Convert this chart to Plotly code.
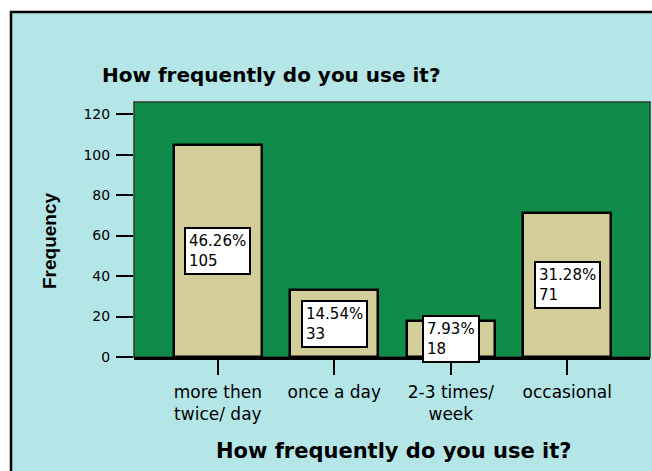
import plotly.graph_objects as go

categories = ["more then<br>twice/ day", "once a day", "2-3 times/<br>week", "occasional"]
counts = [105, 33, 18, 71]
percents = ["46.26%", "14.54%", "7.93%", "31.28%"]
y_ticks = [0, 20, 40, 60, 80, 100, 120]
chart_title = "How frequently do you use it?"
x_title = "How frequently do you use it?"
y_title = "Frequency"

W, H = 652, 471
L, R, T, B = 134, 2, 102, 114
pw, ph = W - L - R, H - T - B

def px_x(px):
    return (px - L) / pw

def px_y(py):
    return (H - B - py) / ph

CYAN = "#B4E6E8"
GREEN = "#108C4A"
TAN = "#D3CD9A"

xs = list(range(len(categories)))

fig = go.Figure()
fig.add_trace(go.Bar(
    x=xs, y=counts, width=0.757,
    marker=dict(color=TAN, line=dict(color="black", width=2.5)),
    hoverinfo="skip",
))

annotations = []
for i, (c, p) in enumerate(zip(counts, percents)):
    annotations.append(dict(
        x=i, y=c / 2, xref="x", yref="y",
        text=f"{p}<br>{c}", showarrow=False, align="left",
        font=dict(family="DejaVu Sans", size=15, color="black"),
        bgcolor="white", bordercolor="black", borderwidth=2, borderpad=3,
    ))

annotations.append(dict(
    x=px_x(271), y=px_y(75), xref="paper", yref="paper",
    text=f"<b>{chart_title}</b>", showarrow=False,
    font=dict(family="DejaVu Sans", size=20, color="black"),
    xanchor="center", yanchor="middle",
))
annotations.append(dict(
    x=px_x(393), y=px_y(451), xref="paper", yref="paper",
    text=f"<b>{x_title}</b>", showarrow=False,
    font=dict(family="DejaVu Sans", size=21, color="black"),
    xanchor="center", yanchor="middle",
))
annotations.append(dict(
    x=px_x(49), y=px_y(241), xref="paper", yref="paper",
    text=f"<b>{y_title}</b>", showarrow=False, textangle=-90,
    font=dict(family="Liberation Sans", size=19, color="black"),
    xanchor="center", yanchor="middle",
))

shapes = [
    dict(type="rect", xref="paper", yref="paper", layer="below",
         x0=px_x(11), x1=px_x(700), y0=px_y(12), y1=px_y(520),
         fillcolor=CYAN, line=dict(color="black", width=2.5)),
    dict(type="rect", xref="paper", yref="paper", layer="below",
         x0=0, x1=1, y0=0, y1=1,
         fillcolor=GREEN, line=dict(color="#2b3a30", width=1.5)),
]

fig.update_layout(
    width=W, height=H,
    margin=dict(l=L, r=R, t=T, b=B, pad=0),
    paper_bgcolor="white",
    plot_bgcolor="rgba(0,0,0,0)",
    showlegend=False,
    bargap=0,
    annotations=annotations,
    shapes=shapes,
    xaxis=dict(
        range=[-0.72, 3.71], tickmode="array", tickvals=xs, ticktext=categories,
        ticks="outside", ticklen=15, tickwidth=2, tickcolor="black",
        showline=True, linecolor="black", linewidth=2.5,
        showgrid=False, zeroline=False, fixedrange=True,
        tickfont=dict(family="DejaVu Sans", size=17, color="black"),
        ticklabelstandoff=3,
    ),
    yaxis=dict(
        range=[0, 126], tickmode="array", tickvals=y_ticks,
        ticks="outside", ticklen=17, tickwidth=2, tickcolor="black",
        showline=False, showgrid=False, zeroline=False, fixedrange=True,
        tickfont=dict(family="DejaVu Sans", size=14, color="black"),
        ticklabelstandoff=3,
    ),
)

fig.write_html("out.html", config={"displayModeBar": False})
